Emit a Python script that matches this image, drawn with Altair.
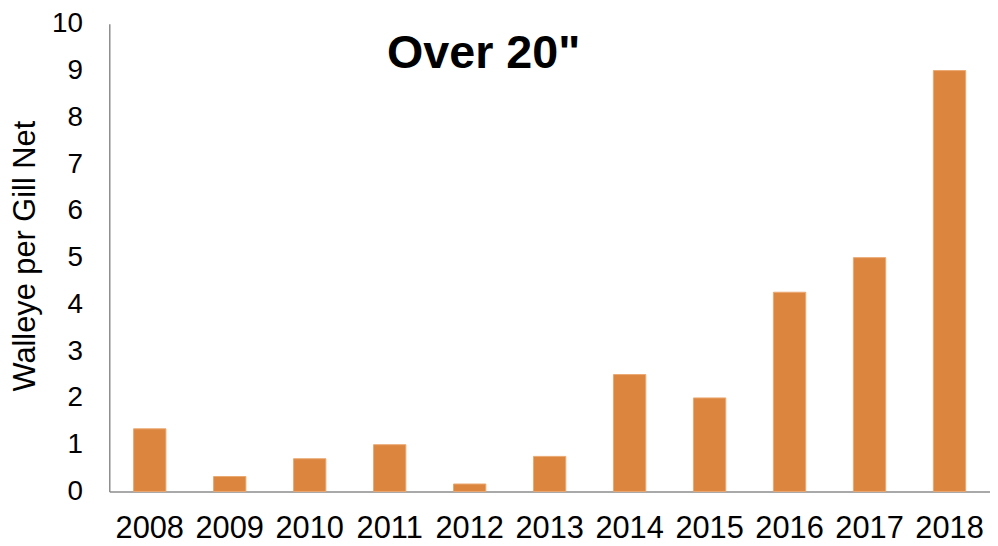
import altair as alt
import pandas as pd

years = ["2008", "2009", "2010", "2011", "2012", "2013", "2014", "2015", "2016", "2017", "2018"]
values = [1.34, 0.32, 0.70, 1.0, 0.16, 0.75, 2.5, 2.0, 4.26, 5.0, 9.0]
title_text = 'Over 20"'
y_title = "Walleye per Gill Net"

df = pd.DataFrame({"year": years, "value": values})
FONT = "Liberation Sans"

W, H = 887, 471

bars = alt.Chart(df).mark_bar(color="#DC853F", stroke="#EBA872", strokeWidth=1).encode(
    x=alt.X("year:N", sort=years,
            scale=alt.Scale(paddingInner=0.596, paddingOuter=0.304),
            axis=alt.Axis(title=None, labelAngle=0, labelFontSize=31, labelFont=FONT,
                          labelColor="#000000", labelPadding=22, ticks=False, grid=False,
                          domainColor="#8C8C8C", domainWidth=1.5)),
    y=alt.Y("value:Q", scale=alt.Scale(domain=[0, 10], nice=False),
            axis=alt.Axis(title=y_title, values=list(range(0, 11)), grid=False, ticks=False,
                          labelFontSize=28, labelFont=FONT, labelColor="#000000", labelPadding=27,
                          domainColor="#8C8C8C", domainWidth=1.5,
                          titleFont=FONT, titleFontSize=31, titleFontWeight="normal",
                          titleColor="#000000", titleAngle=-90, titleX=-84, titleY=H / 2 - 2,
                          titleAlign="center", titleBaseline="middle")),
)

title = alt.Chart(pd.DataFrame({"t": [title_text]})).mark_text(
    font=FONT, fontSize=47, fontWeight="bold", color="#000000",
    align="center", baseline="alphabetic"
).encode(x=alt.value(377), y=alt.value(45), text="t:N")

chart = alt.layer(bars, title).properties(
    width=W, height=H,
    background="white",
    autosize=alt.AutoSizeParams(type="none"),
    padding={"left": 102, "top": 14, "right": 0, "bottom": 52},
).configure_view(stroke="transparent", strokeWidth=0)

chart.save("out.html", embed_options={"renderer": "svg", "actions": False})
